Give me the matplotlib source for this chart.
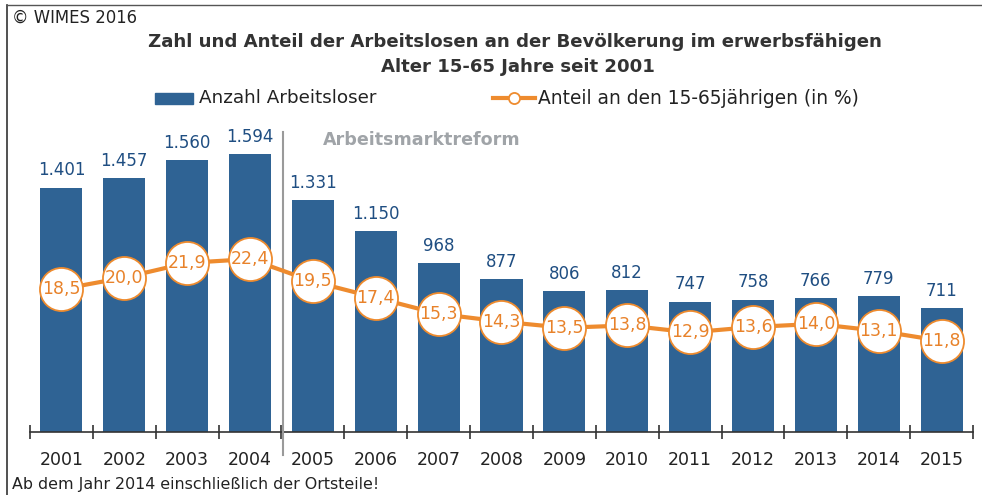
import matplotlib
matplotlib.use("Agg")
import matplotlib.pyplot as plt
from matplotlib.patches import Rectangle
from matplotlib.lines import Line2D

years = ["2001", "2002", "2003", "2004", "2005", "2006", "2007", "2008",
         "2009", "2010", "2011", "2012", "2013", "2014", "2015"]
arbeitslose = [1401, 1457, 1560, 1594, 1331, 1150, 968, 877, 806, 812,
               747, 758, 766, 779, 711]
anteil = [18.5, 20.0, 21.9, 22.4, 19.5, 17.4, 15.3, 14.3, 13.5, 13.8,
          12.9, 13.6, 14.0, 13.1, 11.8]

BAR = "#2F6394"
BARTXT = "#1F4E82"
ORANGE = "#EE8B2E"
ORANGETXT = "#E8822A"

plt.rcParams['font.family'] = ['DejaVu Sans']

W, H = 982, 495
fig = plt.figure(figsize=(W / 100, H / 100), dpi=100)
fig.patch.set_facecolor("white")

ax_left, ax_right = 30, 973
ax_top, ax_bot = 100, 432
ax = fig.add_axes([ax_left / W, (H - ax_bot) / H, (ax_right - ax_left) / W,
                   (ax_bot - ax_top) / H])
x = list(range(len(years)))
ax.bar(x, arbeitslose, width=0.67, color=BAR, zorder=2)
ax.set_xlim(-0.5, len(years) - 0.5)
ax.set_ylim(0, 1904)

def fmt_de(v):
    return f"{v:,}".replace(",", ".")

for xi, v in zip(x, arbeitslose):
    ax.annotate(fmt_de(v), (xi, v), xytext=(0, 6), textcoords="offset points",
                ha="center", va="bottom", fontsize=12, color=BARTXT)

for s in ["left", "right", "top"]:
    ax.spines[s].set_visible(False)
ax.spines["bottom"].set_color("#333333")
ax.spines["bottom"].set_linewidth(1.2)
ax.set_yticks([])
ax.set_xticks(x)
ax.set_xticklabels(years, fontsize=12.5, color="#222222")
ax.tick_params(axis="x", which="major", length=0, pad=14)
ax.set_xticks([i - 0.5 for i in range(len(years) + 1)], minor=True)
ax.tick_params(axis="x", which="minor", length=10, direction="inout",
               color="#333333", width=1.2)

# separator line
ax.axvline(3.52, ymin=-0.069, ymax=0.904, color="#9A9A9A", lw=1.5,
           clip_on=False, zorder=3)
ax.text(4.16, 0.88, "Arbeitsmarktreform", transform=ax.get_xaxis_transform(),
        ha="left", va="center", fontsize=12.6, fontweight="bold",
        color="#A0A4A8")

ax2 = ax.twinx()
ax2.set_ylim(0, 43)
ax2.set_axis_off()
ax2.plot(x, anteil, color=ORANGE, lw=3, marker="o", markersize=31,
         markerfacecolor="white", markeredgecolor=ORANGE,
         markeredgewidth=1.3, zorder=3)
for xi, v in zip(x, anteil):
    ax2.text(xi, v, f"{v:.1f}".replace(".", ","), ha="center", va="center",
             fontsize=12.5, color=ORANGETXT, zorder=4)

# titles and texts
fig.text(12 / W, 1 - 18 / H, "© WIMES 2016", ha="left", va="center",
         fontsize=11.9, color="#222222")
fig.text(515 / W, 1 - 42 / H,
         "Zahl und Anteil der Arbeitslosen an der Bevölkerung im erwerbsfähigen",
         ha="center", va="center", fontsize=13.1, fontweight="bold",
         color="#333333")
fig.text(518 / W, 1 - 67 / H, "Alter 15-65 Jahre seit 2001",
         ha="center", va="center", fontsize=13.1, fontweight="bold",
         color="#333333")
fig.text(12 / W, 1 - 484 / H, "Ab dem Jahr 2014 einschließlich der Ortsteile!",
         ha="left", va="center", fontsize=11.4, color="#222222")

# legend (manual)
fig.patches.append(Rectangle((155 / W, 1 - 104 / H), 38 / W, 11 / H,
                             transform=fig.transFigure, color=BAR))
fig.text(199 / W, 1 - 98 / H, "Anzahl Arbeitsloser", ha="left", va="center",
         fontsize=13.2, color="#222222")
fig.lines.append(Line2D([493 / W, 535 / W], [1 - 98 / H, 1 - 98 / H],
                        transform=fig.transFigure, color=ORANGE, lw=3))
fig.lines.append(Line2D([514 / W], [1 - 98 / H], transform=fig.transFigure,
                        marker="o", markersize=8, markerfacecolor="white",
                        markeredgecolor=ORANGE, markeredgewidth=1.3,
                        linestyle="none"))
fig.text(538 / W, 1 - 98 / H, "Anteil an den 15-65jährigen (in %)",
         ha="left", va="center", fontsize=13.4, color="#222222")

# frame
fig.lines.append(Line2D([7 / W, 7 / W], [0, 1 - 5 / H],
                        transform=fig.transFigure, color="#333333", lw=1.2))
fig.lines.append(Line2D([7 / W, 1], [1 - 5 / H, 1 - 5 / H],
                        transform=fig.transFigure, color="#555555", lw=1.0))

fig.savefig("out.png", dpi=100, facecolor="white")
